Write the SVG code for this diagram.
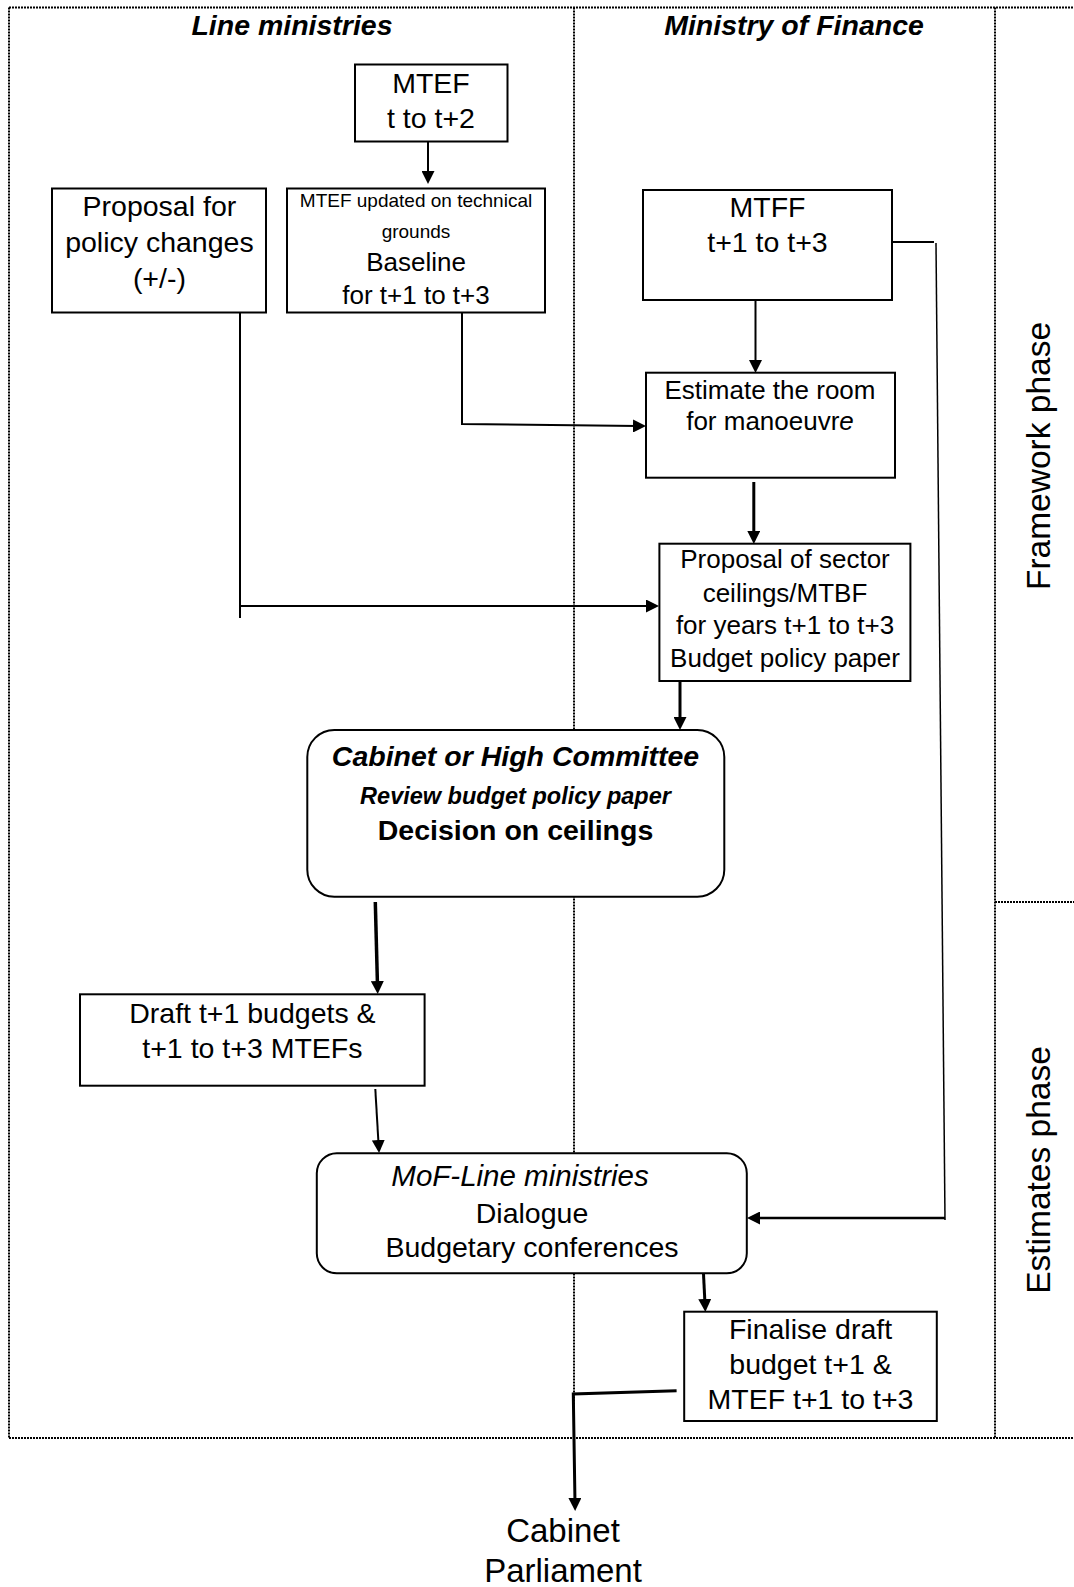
<svg xmlns="http://www.w3.org/2000/svg" width="1074" height="1587" viewBox="0 0 1074 1587">
<style>
text{font-family:"Liberation Sans",Arial,sans-serif;fill:#000;text-anchor:middle}
.t{font-size:28.5px}
.m{font-size:26px}
.s{font-size:19px}
.h{font-size:28.5px;font-weight:bold;font-style:italic}
.ph{font-size:33.5px}
.box{fill:#fff;stroke:#000;stroke-width:2}
.dot{stroke:#000;stroke-width:2;stroke-dasharray:2 1;fill:none}
.c{fill:none;stroke:#000;stroke-width:2}
.c3{fill:none;stroke:#000;stroke-width:3}
</style>
<defs>
<marker id="ah" viewBox="0 0 13 13" markerWidth="13" markerHeight="13" refX="5" refY="6.5" orient="auto" markerUnits="userSpaceOnUse">
<path d="M0,0 L13,6.5 L0,13 z" fill="#000"/>
</marker>
</defs>
<rect width="1074" height="1587" fill="#fff"/>
<g id="frame">
<line class="dot" x1="9" y1="7.5" x2="1074" y2="7.5"/>
<line class="dot" x1="9" y1="7.5" x2="9" y2="1438"/>
<line class="dot" x1="9" y1="1438" x2="1074" y2="1438"/>
<line class="dot" x1="574" y1="7.5" x2="574" y2="1438"/>
<line class="dot" x1="995" y1="7.5" x2="995" y2="1438"/>
<line class="dot" x1="995" y1="902" x2="1074" y2="902"/>
<text class="h" x="292" y="35">Line ministries</text>
<text class="h" x="794" y="35">Ministry of Finance</text>
<text class="ph" transform="translate(1050,456) rotate(-90)">Framework phase</text>
<text class="ph" transform="translate(1050,1170) rotate(-90)">Estimates phase</text>
</g>
<g id="connectors">
<line class="c" x1="428" y1="141" x2="428" y2="176" marker-end="url(#ah)"/>
<line class="c" x1="240" y1="312" x2="240" y2="618"/>
<line class="c" x1="240" y1="606" x2="651" y2="606" marker-end="url(#ah)"/>
<polyline class="c" points="462,308 462,424 638,426" marker-end="url(#ah)"/>
<line class="c" x1="755.5" y1="300" x2="755.5" y2="365" marker-end="url(#ah)"/>
<polyline class="c" points="892,242 934,242"/>
<line fill="none" stroke="#000" stroke-width="1.5" x1="936" y1="243" x2="945" y2="1220"/>
<line fill="none" stroke="#000" stroke-width="2.5" x1="945" y1="1218" x2="755" y2="1218" marker-end="url(#ah)"/>
<line class="c3" x1="753.8" y1="482" x2="753.8" y2="536" marker-end="url(#ah)"/>
<line class="c3" x1="680" y1="678" x2="680" y2="722" marker-end="url(#ah)"/>
<line fill="none" stroke="#000" stroke-width="3.5" x1="375.3" y1="902" x2="377.5" y2="986" marker-end="url(#ah)"/>
<line class="c" x1="375.3" y1="1089" x2="378.6" y2="1145" marker-end="url(#ah)"/>
<line class="c3" x1="703.5" y1="1274" x2="705" y2="1304" marker-end="url(#ah)"/>
<polyline class="c3" points="676.6,1390.7 573.3,1394 575,1503" marker-end="url(#ah)"/>
</g>
<g id="n-mtef">
<rect class="box" x="355" y="64.5" width="152.5" height="77"/>
<text class="t" x="431" y="93.3">MTEF</text>
<text class="t" x="431" y="128.3">t to t+2</text>
</g>
<g id="n-proposal-policy">
<rect class="box" x="52" y="188.5" width="214" height="124"/>
<text class="t" x="159.4" y="216">Proposal for</text>
<text class="t" x="159.4" y="251.7">policy changes</text>
<text class="t" x="159.4" y="287.7">(+/-)</text>
</g>
<g id="n-mtef-updated">
<rect class="box" x="287" y="188.5" width="258" height="124"/>
<text class="s" x="416" y="206.7">MTEF updated on technical</text>
<text class="s" x="416" y="238.3">grounds</text>
<text class="m" x="416" y="270.7">Baseline</text>
<text class="m" x="416" y="304">for t+1 to t+3</text>
</g>
<g id="n-mtff">
<rect class="box" x="643" y="190" width="249" height="110"/>
<text class="t" x="767.5" y="217.3">MTFF</text>
<text class="t" x="767.5" y="252.3">t+1 to t+3</text>
</g>
<g id="n-estimate">
<rect class="box" x="646" y="372.7" width="249" height="105"/>
<text class="m" x="770" y="399">Estimate the room</text>
<text class="m" x="770" y="430">for manoeuvr<tspan font-style="italic">e</tspan></text>
</g>
<g id="n-proposal-sector">
<rect class="box" x="659.4" y="543.7" width="251" height="137.3"/>
<text class="m" x="785" y="568.3">Proposal of sector</text>
<text class="m" x="785" y="601.7">ceilings/MTBF</text>
<text class="m" x="785" y="634.3">for years t+1 to t+3</text>
<text class="m" x="785" y="666.7">Budget policy paper</text>
</g>
<g id="n-cabinet">
<rect class="box" x="307.3" y="730" width="417" height="166.7" rx="27" ry="27"/>
<text class="h" x="515.5" y="766">Cabinet or High Committee</text>
<text x="515.5" y="804" font-size="23.5" font-weight="bold" font-style="italic">Review budget policy paper</text>
<text x="515.5" y="840" font-size="28.5" font-weight="bold">Decision on ceilings</text>
</g>
<g id="n-draft">
<rect class="box" x="80" y="994.3" width="344.6" height="91.4"/>
<text class="t" x="252.4" y="1022.7">Draft t+1 budgets &amp;</text>
<text class="t" x="252.4" y="1057.7">t+1 to t+3 MTEFs</text>
</g>
<g id="n-dialogue">
<rect class="box" x="316.8" y="1153.3" width="430" height="120" rx="20" ry="20"/>
<text x="520" y="1186" font-size="29.5" font-style="italic">MoF-Line ministries</text>
<text class="t" x="532" y="1222.7">Dialogue</text>
<text class="t" x="532" y="1257.3">Budgetary conferences</text>
</g>
<g id="n-finalise">
<rect class="box" x="684.2" y="1311.7" width="252.6" height="109.3"/>
<text class="t" x="810.5" y="1339.3">Finalise draft</text>
<text class="t" x="810.5" y="1374">budget t+1 &amp;</text>
<text class="t" x="810.5" y="1409">MTEF t+1 to t+3</text>
</g>
<g id="n-output">
<text x="563" y="1542.3" font-size="33">Cabinet</text>
<text x="563" y="1582" font-size="33">Parliament</text>
</g>
</svg>
